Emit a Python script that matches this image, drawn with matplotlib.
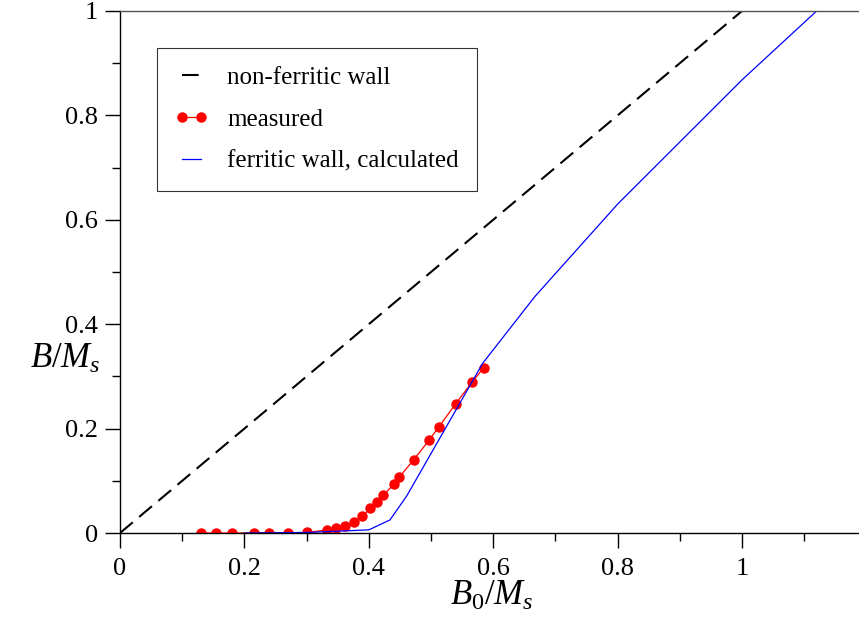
import numpy as np
import matplotlib
matplotlib.use('Agg')
import matplotlib.pyplot as plt
from matplotlib.ticker import MultipleLocator, FuncFormatter

plt.rcParams['font.family'] = 'serif'
plt.rcParams['font.serif'] = ['Liberation Serif'] + plt.rcParams['font.serif']
plt.rcParams['mathtext.fontset'] = 'custom'
plt.rcParams['mathtext.rm'] = 'Liberation Serif'
plt.rcParams['mathtext.it'] = 'Liberation Serif:italic'

# non-ferritic wall (B = B0)
nonferr_x = [0.0, 1.0]
nonferr_y = [0.0, 1.0]

# measured points
meas_x = [0.130, 0.154, 0.180, 0.215, 0.240, 0.270, 0.301, 0.333, 0.348, 0.362,
          0.376, 0.389, 0.402, 0.413, 0.423, 0.440, 0.449, 0.472, 0.497, 0.513,
          0.540, 0.566, 0.585]
meas_y = [0.000, 0.000, 0.000, 0.000, 0.000, 0.000, 0.001, 0.006, 0.009, 0.013,
          0.021, 0.032, 0.047, 0.059, 0.072, 0.093, 0.107, 0.140, 0.178, 0.204,
          0.248, 0.289, 0.317]

# ferritic wall, calculated
calc_x = [0.20, 0.30, 0.40, 0.434, 0.461, 0.583, 0.667, 0.80, 1.00, 1.12]
calc_y = [0.000, 0.001, 0.006, 0.025, 0.071, 0.325, 0.453, 0.630, 0.868, 1.000]

fig = plt.figure(figsize=(8.59, 6.17), dpi=100)
ax = fig.add_axes([120/859, 84/617, 1 - 120/859, (533 - 11)/617])

ax.plot(nonferr_x, nonferr_y, color='k', lw=1.5, dashes=(8, 4),
        label='non-ferritic wall')
ax.plot(meas_x, meas_y, color='#ff0000', lw=0.9, marker='o', ms=6.5,
        label='measured')
ax.plot(calc_x, calc_y, color='#0000ff', lw=0.9,
        label='ferritic wall, calculated')

ax.set_xlim(0, 739/622)
ax.set_ylim(0, 1)

ax.xaxis.set_major_locator(MultipleLocator(0.2))
ax.xaxis.set_minor_locator(MultipleLocator(0.1))
ax.yaxis.set_major_locator(MultipleLocator(0.2))
ax.yaxis.set_minor_locator(MultipleLocator(0.1))
fmt = FuncFormatter(lambda v, pos: '{:g}'.format(round(v, 2)))
ax.xaxis.set_major_formatter(fmt)
ax.yaxis.set_major_formatter(fmt)

ax.tick_params(which='major', direction='out', length=10.8, width=1.0,
               labelsize=19, pad=5)
ax.tick_params(which='minor', direction='out', length=6, width=1.0)
ax.tick_params(axis='x', which='major', pad=7)
ax.tick_params(top=False, right=False, which='both')

ax.spines['right'].set_visible(False)
for s in ['left', 'bottom', 'top']:
    ax.spines[s].set_linewidth(1.0)
ax.spines['top'].set_color('#555555')

ax.set_xlabel('$B_0/M_s$', fontsize=25)
ax.xaxis.set_label_coords(0.503, -0.122)
ax.xaxis.label.set_va('center')
ax.set_ylabel('$B/M_s$', fontsize=25, rotation=0, ha='right', va='center')
ax.yaxis.set_label_coords(-0.027, 0.333)

leg = ax.legend(loc='upper left', bbox_to_anchor=(0.0497, 0.9286),
                borderaxespad=0, fontsize=18, frameon=True, fancybox=False,
                edgecolor='k', handlelength=1.35, handletextpad=0.75,
                labelspacing=0.78, borderpad=0.72, numpoints=2)
leg.get_frame().set_linewidth(0.8)

plt.savefig('out.png', dpi=100)
